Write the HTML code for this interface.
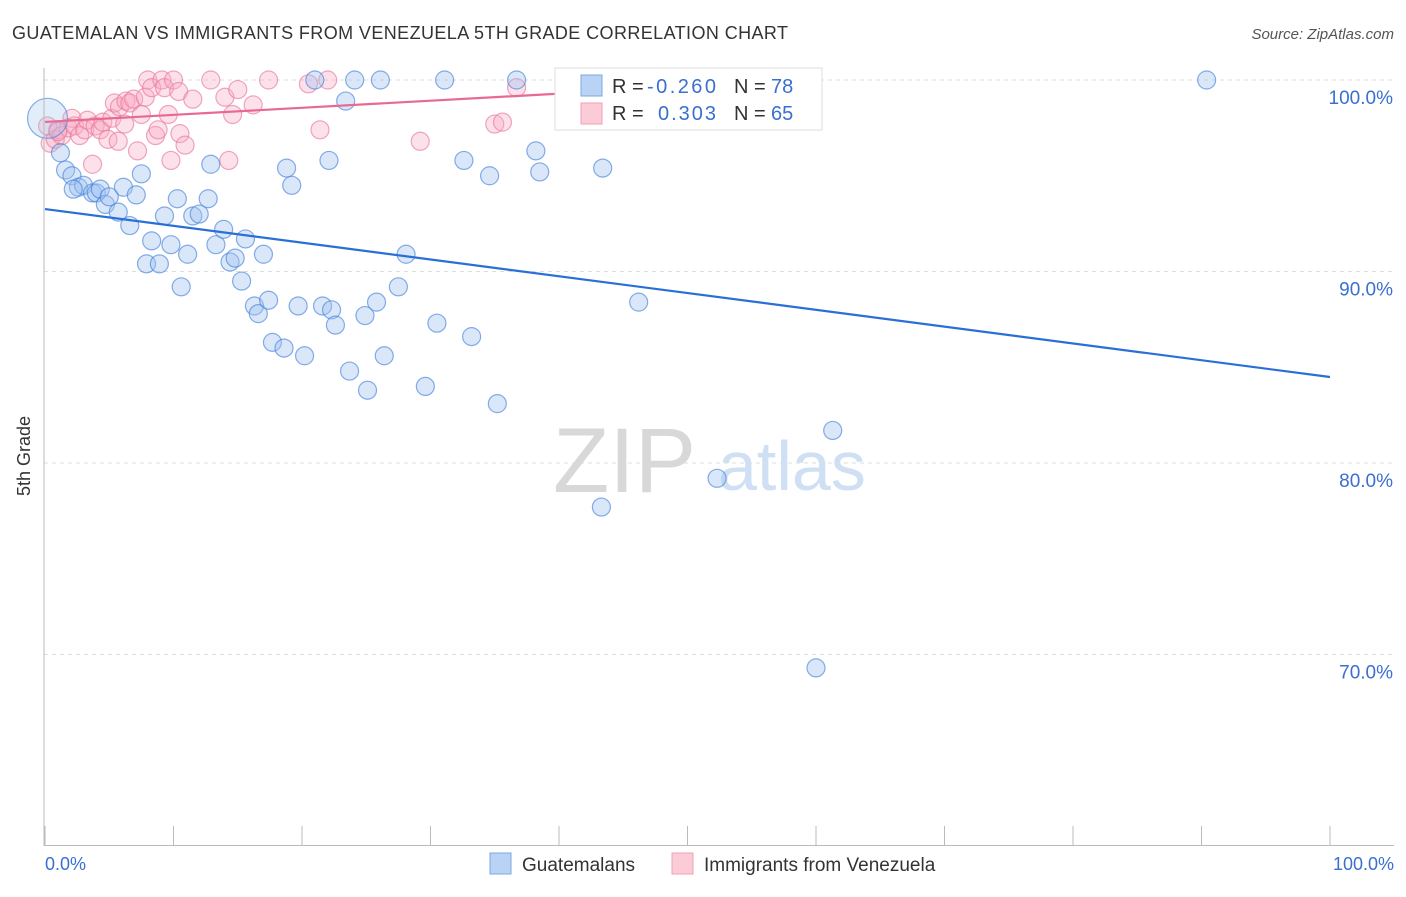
<!DOCTYPE html>
<html><head><meta charset="utf-8"><style>
body{margin:0;background:#fff;font-family:"Liberation Sans",sans-serif}
svg text{font-family:"Liberation Sans",sans-serif}
</style></head><body>
<svg id="chart" width="1406" height="892" xmlns="http://www.w3.org/2000/svg">
<text x="12" y="39" font-size="18" fill="#333" textLength="776">GUATEMALAN VS IMMIGRANTS FROM VENEZUELA 5TH GRADE CORRELATION CHART</text>
<text x="1394" y="39" font-size="15" fill="#555" text-anchor="end" font-style="italic">Source: ZipAtlas.com</text>
<g id="grid"></g>
<g><text x="553" y="492" font-size="92" fill="#d8d8d8" font-family="Liberation Serif">ZIP</text><text x="718" y="490" font-size="70" fill="#cfe0f4">atlas</text></g>
<g id="marks"></g>
<line x1="44" y1="68" x2="44" y2="846" stroke="#bbb"/>
<line x1="44" y1="845.5" x2="1394" y2="845.5" stroke="#bbb"/>
<text x="30" y="456" font-size="18" fill="#333" text-anchor="middle" transform="rotate(-90 30 456)">5th Grade</text>
<text x="45" y="870" font-size="18" fill="#3a6fd0">0.0%</text>
<text x="1394" y="870" font-size="18" fill="#3a6fd0" text-anchor="end">100.0%</text>
<g>
<rect x="555" y="68" width="267" height="62" fill="#fff" stroke="#ddd"/>
<rect x="581" y="75" width="21" height="21" fill="#b9d3f5" stroke="#7aa7e3"/>
<rect x="581" y="103" width="21" height="21" fill="#fbcbd8" stroke="#f0a0b8"/>
<text x="612" y="93" font-size="20" fill="#333">R = <tspan fill="#3a6fd0" x="647" textLength="69">-0.260</tspan></text>
<text x="734" y="93" font-size="20" fill="#333">N = <tspan fill="#3a6fd0" x="771">78</tspan></text>
<text x="612" y="120" font-size="20" fill="#333">R = <tspan fill="#3a6fd0" x="658" textLength="58">0.303</tspan></text>
<text x="734" y="120" font-size="20" fill="#333">N = <tspan fill="#3a6fd0" x="771">65</tspan></text>
</g>
<g>
<rect x="490" y="853" width="21" height="21" fill="#b9d3f5" stroke="#7aa7e3"/>
<text x="522" y="871" font-size="19" fill="#333">Guatemalans</text>
<rect x="672" y="853" width="21" height="21" fill="#fbcbd8" stroke="#f0a0b8"/>
<text x="704" y="871" font-size="19" fill="#333">Immigrants from Venezuela</text>
</g>
</svg>
<script>
const yTicks=[100,90,80,70];
const yTickLabels=["100.0%","90.0%","80.0%","70.0%"];
const xTicks=[0,10,20,30,40,50,60,70,80,90,100];
const bluePx=[[0.2,98.0],[1.2,96.2],[1.6,95.3],[2.1,95.0],[2.6,94.4],[3.0,94.5],[3.7,94.1],[4.0,94.1],[4.3,94.3],[4.7,93.5],[5.7,93.1],[6.1,94.4],[6.6,92.4],[7.1,94.0],[7.5,95.1],[8.3,91.6],[7.9,90.4],[8.9,90.4],[9.3,92.9],[9.8,91.4],[10.3,93.8],[10.6,89.2],[11.1,90.9],[11.5,92.9],[12.0,93.0],[12.7,93.8],[12.9,95.6],[13.3,91.4],[13.9,92.2],[14.4,90.5],[14.8,90.7],[15.3,89.5],[15.6,91.7],[16.3,88.2],[16.6,87.8],[17.0,90.9],[17.4,88.5],[17.7,86.3],[18.6,86.0],[18.8,95.4],[19.2,94.5],[19.7,88.2],[20.2,85.6],[21.0,100.0],[21.6,88.2],[22.1,95.8],[22.3,88.0],[22.6,87.2],[23.4,98.9],[23.7,84.8],[24.1,100.0],[24.9,87.7],[25.1,83.8],[25.8,88.4],[26.1,100.0],[26.4,85.6],[27.5,89.2],[28.1,90.9],[29.6,84.0],[30.5,87.3],[31.1,100.0],[32.6,95.8],[33.2,86.6],[34.6,95.0],[35.2,83.1],[36.7,100.0],[38.2,96.3],[38.5,95.2],[43.3,77.7],[43.4,95.4],[46.2,88.4],[52.3,79.2],[58.5,100.0],[60.0,69.3],[61.3,81.7],[90.4,100.0],[2.2,94.3],[5.0,93.9]];
const pinkPx=[[0.2,97.6],[0.4,96.7],[0.8,96.9],[1.0,97.4],[1.3,97.1],[1.8,97.5],[2.1,98.0],[2.3,97.6],[2.7,97.1],[3.1,97.4],[3.3,97.9],[3.7,95.6],[3.9,97.6],[4.3,97.4],[4.5,97.8],[4.9,96.9],[5.2,98.0],[5.4,98.8],[5.7,96.8],[5.8,98.6],[6.2,97.7],[6.3,98.9],[6.6,98.8],[6.9,99.0],[7.2,96.3],[7.5,98.2],[7.8,99.1],[8.0,100.0],[8.3,99.6],[8.6,97.1],[8.8,97.4],[9.1,100.0],[9.3,99.6],[9.6,98.2],[9.8,95.8],[10.0,100.0],[10.4,99.4],[10.5,97.2],[10.9,96.6],[11.5,99.0],[12.9,100.0],[14.0,99.1],[14.3,95.8],[14.6,98.2],[15.0,99.5],[16.2,98.7],[17.4,100.0],[20.5,99.8],[21.4,97.4],[22.0,100.0],[29.2,96.8],[35.0,97.7],[35.6,97.8],[36.7,99.6],[1.0,97.3]];
const blueTrend=[93.26,84.49];
const pinkTrend=[97.81,99.32];
const pinkTrendEnd=40.9;
const X=v=>45+v*12.85, Y=v=>80+(100-v)*19.15;
const NS="http://www.w3.org/2000/svg";
const grid=document.getElementById('grid'), marks=document.getElementById('marks');
function mk(tag,attrs,parent){const e=document.createElementNS(NS,tag);for(const k in attrs)e.setAttribute(k,attrs[k]);parent.appendChild(e);return e;}
yTicks.forEach((t,i)=>{
 const l=mk('line',{x1:44,x2:1394,y1:Y(t),y2:Y(t),stroke:'#ddd','stroke-dasharray':'4,4'},grid);
 
 
 const tx=mk('text',{x:1393,y:Y(t)+24,'font-size':19,fill:'#3a6fd0','text-anchor':'end'},grid);
 tx.textContent=yTickLabels[i];
 
 
});
xTicks.forEach(t=>{
 const l=mk('line',{x1:X(t),x2:X(t),y1:826,y2:846,stroke:'#bbb'},grid);
 
 
});
pinkPx.forEach(p=>{
 const c=mk('circle',{cx:X(p[0]),cy:Y(p[1]),r:9,fill:'rgba(248,170,195,0.35)',stroke:'rgba(232,120,155,0.65)','stroke-width':1.2},marks);
 
 
});
bluePx.forEach((p,i)=>{
 const c=mk('circle',{cx:X(p[0]),cy:Y(p[1]),r:i==0?20:9,fill:i==0?'rgba(160,195,240,0.3)':'rgba(160,195,240,0.4)',stroke:'rgba(70,130,220,0.65)','stroke-width':1.2},marks);
 
 
});
const bl=mk('line',{x1:X(0),y1:Y(blueTrend[0]),x2:X(100),y2:Y(blueTrend[1]),stroke:'#2a6fd6','stroke-width':2.2},marks);


const pl=mk('line',{x1:X(0),y1:Y(pinkTrend[0]),x2:X(pinkTrendEnd),y2:Y(pinkTrend[1]),stroke:'#e86a92','stroke-width':2.2},marks);


</script>
</body></html>
